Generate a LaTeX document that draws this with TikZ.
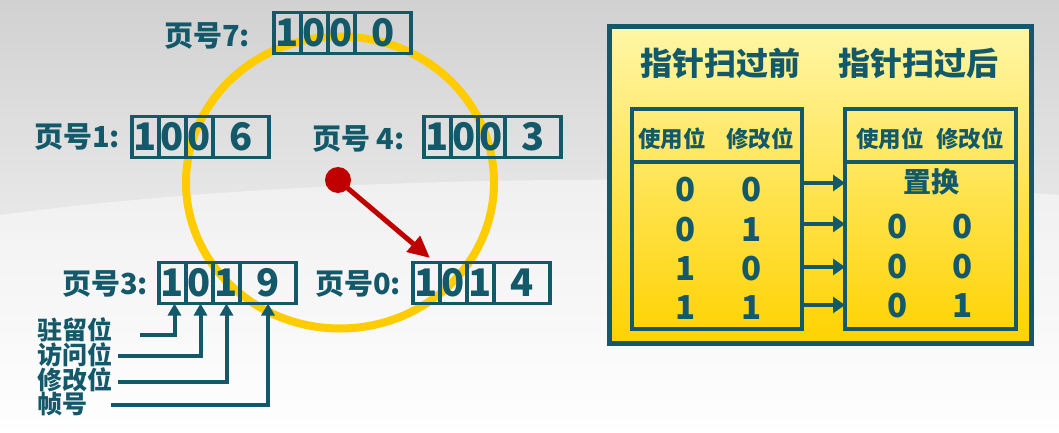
\documentclass[tikz,border=0pt]{standalone}
\usepackage{fontspec}
\setmainfont{Noto Sans CJK SC}
\usetikzlibrary{arrows.meta}
\definecolor{tealc}{HTML}{14596A}
\definecolor{ringc}{HTML}{FFCC00}
\definecolor{redc}{HTML}{C00000}
\definecolor{paltop}{HTML}{FFF6A6}
\definecolor{palbot}{HTML}{FFD200}
\newcommand\pbox[7]{%
  \node[cell,minimum width=27pt] (#1a) at (#2,#3) {#4};
  \node[cell,minimum width=27pt] (#1b) at (#1a.east) {#5};
  \node[cell,minimum width=27pt] (#1c) at (#1b.east) {#6};
  \node[cell,minimum width=56pt] (#1d) at (#1c.east) {#7};
}
\begin{document}
\begin{tikzpicture}[x=1pt,y=-1pt,font=\bfseries,
  cell/.style={draw=tealc,line width=3.8pt,minimum height=41pt,inner sep=0pt,outer sep=0pt,
    text=tealc,font=\bfseries\fontsize{38}{38}\selectfont,anchor=west},
  plabel/.style={text=tealc,font=\bfseries\fontsize{29}{29}\selectfont,inner sep=0pt,anchor=west},
  flabel/.style={text=tealc,font=\bfseries\fontsize{25}{25}\selectfont,inner sep=0pt,anchor=west},
  uparr/.style={draw=tealc,line width=4pt,-{Triangle[length=12pt,width=13pt]}},
  rarr/.style={draw=tealc,line width=4.5pt,-{Triangle[length=12pt,width=16pt]}},
  tbox/.style={draw=tealc,line width=4.5pt,inner sep=0pt,outer sep=0pt},
  ttl/.style={text=tealc,font=\bfseries\fontsize{32}{32}\selectfont,inner sep=0pt},
  hdr/.style={text=tealc,font=\bfseries\fontsize{22.5}{22.5}\selectfont,inner sep=0pt},
  dig/.style={text=tealc,font=\bfseries\fontsize{33}{33}\selectfont,inner sep=0pt}]
\useasboundingbox (0,0) rectangle (1059,433);
% background
\shade[top color=black!18,bottom color=white,middle color=black!9] (0,0) rectangle (1059,433);
\fill[white,opacity=0.45] (0,215) .. controls (300,175) and (700,170) .. (1059,195) -- (1059,433) -- (0,433) -- cycle;
% ring
\draw[ringc,line width=8pt] (340,182.5) ellipse [x radius=154pt,y radius=146pt];
% pointer
\node[circle,fill=redc,minimum size=26pt,inner sep=0pt] (dot) at (338,180) {};
\coordinate (tip) at (430,258);
\draw[redc,line width=5pt,-{Triangle[length=22pt,width=20pt]}] (dot.center) -- (tip);
% page boxes
\node[plabel] (l7) at (164,36) {页号7:};
\pbox{p7}{274}{33}{1}{0}{0}{0}
\node[plabel] (l1) at (34,137) {页号1:};
\pbox{p1}{132}{137}{1}{0}{0}{6}
\node[plabel] (l4) at (312,139) {页号 4:};
\pbox{p4}{424}{137}{1}{0}{0}{3}
\node[plabel] (l3) at (62,284) {页号3:};
\pbox{p3}{159}{283}{1}{0}{1}{9}
\node[plabel] (l0) at (315,284) {页号0:};
\pbox{p0}{413}{283}{1}{0}{1}{4}
% field labels
\node[flabel] (f1) at (37,330) {驻留位};
\node[flabel] (f2) at (37,355) {访问位};
\node[flabel] (f3) at (37,380) {修改位};
\node[flabel] (f4) at (37,404) {帧号};
\coordinate (s1) at (140,335);
\coordinate (s2) at (118,356);
\coordinate (s3) at (118,382);
\coordinate (s4) at (111,405);
\draw[uparr] (s1) -| ([xshift=2pt]p3a.south);
\draw[uparr] (s2) -| ([xshift=1pt]p3b.south);
\draw[uparr] (s3) -| (p3c.south);
\draw[uparr] (s4) -| (p3d.south);
% right panel
\node[draw=tealc,line width=5pt,top color=paltop,bottom color=palbot,minimum width=422pt,minimum height=316pt,inner sep=0pt] (panel) at (820,185) {};
\node[ttl] (t1) at (720,63) {指针扫过前};
\node[ttl] (t2) at (918,63) {指针扫过后};
\node[tbox,minimum width=170pt,minimum height=220pt] (lt) at (717,219) {};
\node[tbox,minimum width=171pt,minimum height=220pt] (rt) at (930.5,219) {};
\draw[tealc,line width=4.5pt] (lt.west |- 0,162) -- (lt.east |- 0,162);
\draw[tealc,line width=4.5pt] (rt.west |- 0,162) -- (rt.east |- 0,162);
\node[hdr] (h1) at (672,139) {使用位};
\node[hdr] (h2) at (760,139) {修改位};
\node[hdr] (h3) at (890,139) {使用位};
\node[hdr] (h4) at (970,139) {修改位};
\node[dig] (a11) at (686,190) {0};
\node[dig] (a12) at (752,190) {0};
\node[dig] (a21) at (686,230) {0};
\node[dig] (a22) at (752,230) {1};
\node[dig] (a31) at (686,269) {1};
\node[dig] (a32) at (752,269) {0};
\node[dig] (a41) at (686,308) {1};
\node[dig] (a42) at (752,308) {1};
\node[text=tealc,font=\bfseries\fontsize{28}{28}\selectfont,inner sep=0pt] (zh) at (931,182) {置换};
\node[dig] (b21) at (898,227) {0};
\node[dig] (b22) at (963,227) {0};
\node[dig] (b31) at (898,267) {0};
\node[dig] (b32) at (963,267) {0};
\node[dig] (b41) at (898,306) {0};
\node[dig] (b42) at (963,306) {1};
\coordinate (r1) at (802,183);
\coordinate (r2) at (802,224);
\coordinate (r3) at (802,267);
\coordinate (r4) at (802,305);
\draw[rarr] (r1) -- (r1 -| rt.west);
\draw[rarr] (r2) -- (r2 -| rt.west);
\draw[rarr] (r3) -- (r3 -| rt.west);
\draw[rarr] (r4) -- (r4 -| rt.west);
\end{tikzpicture}
\end{document}
